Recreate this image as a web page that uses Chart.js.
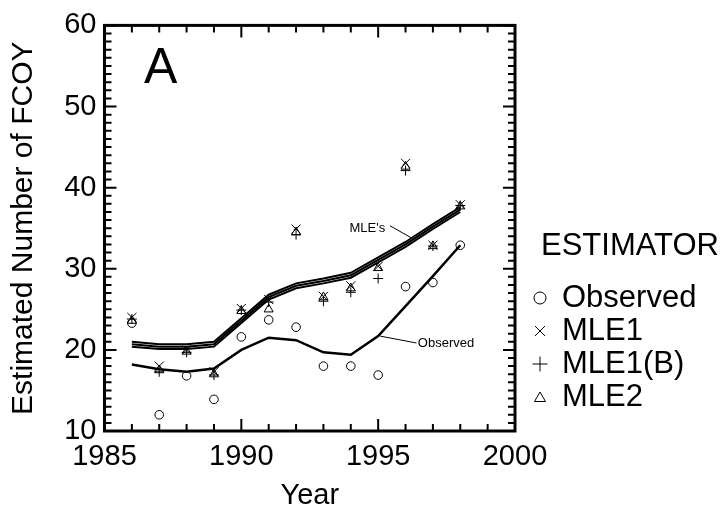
<!DOCTYPE html>
<html>
<head>
<meta charset="utf-8">
<script src="https://cdn.jsdelivr.net/npm/chart.js@4.4.1/dist/chart.umd.min.js"></script>
<style>
  html, body { margin: 0; padding: 0; background: #fff; }
  canvas { display: block; }
</style>
</head>
<body>
<canvas id="chart" width="723" height="514"></canvas>
<script>
// values
const years = [1986, 1987, 1988, 1989, 1990, 1991, 1992, 1993, 1994, 1995, 1996, 1997, 1998];

const observed = [23.3, 12.0, 16.8, 13.9, 21.6, 23.7, 22.8, 18.0, 18.0, 16.9, 27.8, 28.3, 32.9];
const mle1     = [24.0, 18.0, 20.0, 17.3, 25.1, 26.2, 34.9, 26.6, 27.9, 30.3, 43.0, 32.9, 37.9];
const mle1b    = [23.8, 17.3, 19.7, 16.9, 24.9, 25.9, 34.2, 26.0, 27.1, 28.8, 42.1, 32.8, 37.8];
const mle2     = [23.6, 17.5, 19.8, 17.0, 24.8, 25.0, 34.5, 26.5, 27.6, 30.1, 42.6, 32.8, 37.7];

// fitted curves
const fitObserved = [18.2, 17.6, 17.3, 17.7, 20.0, 21.5, 21.2, 19.7, 19.4, 21.7, 25.4, 29.1, 32.9];
const fitMle1     = [21.0, 20.7, 20.7, 21.0, 23.9, 26.8, 28.2, 28.8, 29.5, 31.4, 33.3, 35.5, 37.6];
const fitMle1b    = [20.7, 20.4, 20.4, 20.7, 23.6, 26.5, 27.9, 28.5, 29.2, 31.1, 33.0, 35.2, 37.3];
const fitMle2     = [20.4, 20.1, 20.1, 20.4, 23.3, 26.2, 27.6, 28.2, 28.9, 30.8, 32.7, 34.9, 37.0];

const xTicks = [1985, 1990, 1995, 2000];
const yTicks = [10, 20, 30, 40, 50, 60];

const legendNames = ['Observed', 'MLE1', 'MLE1(B)', 'MLE2'];
const legendStyles = ['circle', 'crossRot', 'cross', 'triangle'];

const FONT = '"Liberation Sans", Arial, Helvetica, sans-serif';

const pts = arr => arr.map((v, i) => ({ x: years[i], y: v }));

function fitLine(values, w) {
  return {
    data: pts(values), showLine: true, borderColor: '#000', borderWidth: w,
    pointRadius: 0, fill: false, tension: 0, order: 2
  };
}
function marks(values, style, r) {
  return {
    data: pts(values), showLine: false, pointStyle: style, pointRadius: r,
    pointBorderColor: '#000', pointBackgroundColor: 'rgba(0,0,0,0)',
    pointBorderWidth: 1, order: 1
  };
}

// axes frame with inward ticks on all four sides
const framePlugin = {
  id: 'frame',
  afterDraw(chart) {
    const { ctx, chartArea: a, scales: { x, y } } = chart;
    ctx.save();
    ctx.strokeStyle = '#000';
    ctx.lineWidth = 2;
    for (let v = 1985; v <= 2000; v++) {
      const px = x.getPixelForValue(v);
      const len = v % 5 === 0 ? 12 : 7;
      ctx.beginPath();
      ctx.moveTo(px, a.bottom); ctx.lineTo(px, a.bottom - len);
      ctx.moveTo(px, a.top); ctx.lineTo(px, a.top + len);
      ctx.stroke();
    }
    for (let v = 10; v <= 60; v++) {
      const py = y.getPixelForValue(v);
      const len = v % 10 === 0 ? 12 : 7;
      ctx.beginPath();
      ctx.moveTo(a.left, py); ctx.lineTo(a.left + len, py);
      ctx.moveTo(a.right, py); ctx.lineTo(a.right - len, py);
      ctx.stroke();
    }
    ctx.lineWidth = 3;
    ctx.strokeRect(a.left, a.top, a.right - a.left, a.bottom - a.top);
    ctx.restore();
  }
};

// in-plot labels and the legend at right
const notesPlugin = {
  id: 'notes',
  afterDraw(chart) {
    const { ctx, scales: { x, y } } = chart;
    ctx.save();
    ctx.fillStyle = '#000';
    ctx.strokeStyle = '#000';
    ctx.textBaseline = 'middle';

    ctx.font = '50px ' + FONT;
    ctx.textAlign = 'center';
    ctx.fillText('A', x.getPixelForValue(1987.05), y.getPixelForValue(54.6));

    ctx.font = '13px ' + FONT;
    ctx.textAlign = 'left';
    ctx.fillText("MLE's", x.getPixelForValue(1993.95), y.getPixelForValue(35.0));
    ctx.fillText('Observed', x.getPixelForValue(1996.45), y.getPixelForValue(20.8));
    ctx.lineWidth = 1;
    ctx.beginPath();
    ctx.moveTo(x.getPixelForValue(1995.43), y.getPixelForValue(35.3));
    ctx.lineTo(x.getPixelForValue(1996.22), y.getPixelForValue(33.8));
    ctx.moveTo(x.getPixelForValue(1995.07), y.getPixelForValue(21.7));
    ctx.lineTo(x.getPixelForValue(1996.4), y.getPixelForValue(20.85));
    ctx.stroke();

    // legend
    ctx.font = '31px ' + FONT;
    ctx.fillText('ESTIMATOR', 541, 246);
    legendNames.forEach((name, i) => {
      const cy = 298 + i * 33;
      const cx = 540;
      ctx.fillText(name, 562, cy);
      ctx.lineWidth = 1;
      ctx.beginPath();
      const s = legendStyles[i];
      if (s === 'circle') {
        ctx.arc(cx, cy, 6, 0, Math.PI * 2);
      } else if (s === 'crossRot') {
        ctx.moveTo(cx - 5, cy - 5); ctx.lineTo(cx + 5, cy + 5);
        ctx.moveTo(cx + 5, cy - 5); ctx.lineTo(cx - 5, cy + 5);
      } else if (s === 'cross') {
        ctx.moveTo(cx - 7.5, cy); ctx.lineTo(cx + 7.5, cy);
        ctx.moveTo(cx, cy - 7.5); ctx.lineTo(cx, cy + 7.5);
      } else {
        ctx.moveTo(cx, cy - 5); ctx.lineTo(cx + 5.5, cy + 4.5);
        ctx.lineTo(cx - 5.5, cy + 4.5); ctx.closePath();
      }
      ctx.stroke();
    });
    ctx.restore();
  }
};

new Chart(document.getElementById('chart'), {
  type: 'scatter',
  data: {
    datasets: [
      fitLine(fitMle1, 2), fitLine(fitMle1b, 2), fitLine(fitMle2, 2), fitLine(fitObserved, 2.5),
      marks(observed, 'circle', 4.3),
      marks(mle1, 'crossRot', 6.4),
      marks(mle1b, 'cross', 5),
      marks(mle2, 'triangle', 5.2)
    ]
  },
  options: {
    responsive: false,
    animation: false,
    layout: { padding: { top: 19.5, right: 208, left: 0, bottom: 0 } },
    plugins: { legend: { display: false }, tooltip: { enabled: false } },
    scales: {
      x: {
        type: 'linear', min: 1985, max: 2000,
        afterBuildTicks: s => { s.ticks = xTicks.map(v => ({ value: v })); },
        afterFit: s => { s.height = 83; },
        grid: { display: false, drawTicks: false },
        border: { display: false },
        ticks: { color: '#000', font: { family: FONT, size: 29 }, padding: 9,
                 maxRotation: 0, callback: v => String(v) },
        title: { display: true, text: 'Year', color: '#000',
                 font: { family: FONT, size: 29, lineHeight: 1 }, padding: { bottom: 4 } }
      },
      y: {
        type: 'linear', min: 10, max: 60,
        afterBuildTicks: s => { s.ticks = yTicks.map(v => ({ value: v })); },
        afterFit: s => { s.width = 104.5; },
        grid: { display: false, drawTicks: false },
        border: { display: false },
        ticks: { color: '#000', font: { family: FONT, size: 29 }, padding: 8,
                 callback: v => String(v) },
        title: { display: true, text: 'Estimated Number of FCOY', color: '#000',
                 font: { family: FONT, size: 30, lineHeight: 1 }, padding: { top: 9 } }
      }
    }
  },
  plugins: [framePlugin, notesPlugin]
});
</script>
</body>
</html>
